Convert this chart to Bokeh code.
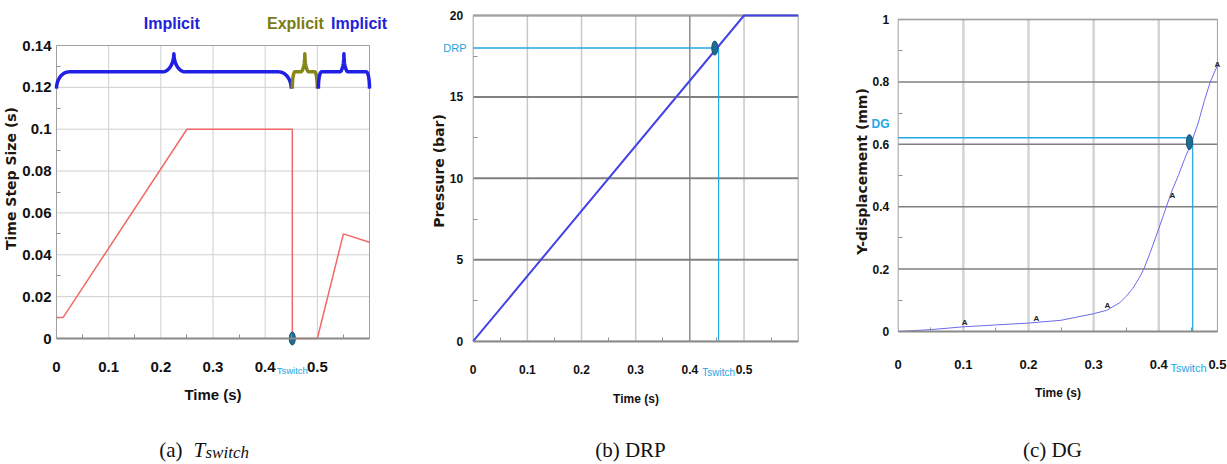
import numpy as np
from bokeh.plotting import figure
from bokeh.models import FixedTicker, Range1d
from bokeh.layouts import row
from bokeh.embed import file_html
from bokeh.resources import INLINE
from bokeh.core.properties import value

# ---------------- data ----------------
# (a) time step size
a_time = [0.0, 0.0125, 0.25, 0.452, 0.452, 0.5, 0.55, 0.6]
a_step = [0.01, 0.01, 0.1, 0.1, 0.0, 0.0, 0.05, 0.046]
a_xticks = [0, 0.1, 0.2, 0.3, 0.4, 0.5]
a_xlabels = ["0", "0.1", "0.2", "0.3", "0.4", "0.5"]
a_yticks = [0, 0.02, 0.04, 0.06, 0.08, 0.1, 0.12, 0.14]
a_ylabels = ["0", "0.02", "0.04", "0.06", "0.08", "0.1", "0.12", "0.14"]
a_xmax, a_ymax = 0.6, 0.14
brace_names = ["Implicit", "Explicit", "Implicit"]
brace_start = [0.0, 0.452, 0.502]
brace_end = [0.45, 0.5, 0.6]
brace_tip = [0.225, 0.476, 0.551]
brace_label_x = [0.221, 0.458, 0.58]
a_tswitch = 0.452

# (b) pressure
b_time = [0.0, 0.5, 0.6]
b_pressure = [0.0, 20.0, 20.0]
b_xticks = [0, 0.1, 0.2, 0.3, 0.4, 0.5]
b_xlabels = ["0", "0.1", "0.2", "0.3", "0.4", "0.5"]
b_yticks = [0, 5, 10, 15, 20]
b_ylabels = ["0", "5", "10", "15", "20"]
b_xmax, b_ymax = 0.6, 20
b_drp = 18.0
b_tswitch = 0.453
b_dot_t = 0.446

# (c) y-displacement
c_time = [0.0, 0.05, 0.1, 0.15, 0.2, 0.25, 0.3, 0.32, 0.34, 0.35, 0.36, 0.37,
          0.377, 0.387, 0.4, 0.41, 0.42, 0.43, 0.44, 0.449, 0.46, 0.47, 0.479, 0.49]
c_disp = [0.0, 0.006, 0.015, 0.021, 0.027, 0.036, 0.057, 0.068, 0.092, 0.113, 0.138, 0.172,
          0.2, 0.254, 0.33, 0.39, 0.45, 0.5, 0.555, 0.6, 0.665, 0.74, 0.8, 0.853]
c_mark_t = [0.102, 0.212, 0.321, 0.421, 0.49]
c_mark_y = [0.016, 0.028, 0.068, 0.42, 0.84]
c_xticks = [0, 0.1, 0.2, 0.3, 0.4, 0.49]
c_xlabels = ["0", "0.1", "0.2", "0.3", "0.4", "0.5"]
c_yticks = [0, 0.2, 0.4, 0.6, 0.8, 1.0]
c_ylabels = ["0", "0.2", "0.4", "0.6", "0.8", "1"]
c_xmax, c_ymax = 0.49, 1.0
c_dg = 0.621
c_tswitch = 0.452
c_dot = (0.447, 0.607)

# ---------------- styles ----------------
SANS = "Liberation Sans"
WIDE = "DejaVu Sans"
SERIF = "Liberation Serif"
CYAN = "#22a6e4"
DOT_FILL = "#1f6d94"
DOT_LINE = "#15506e"
H = 464


class Frame:
    """pixel <-> data mapping of a panel whose plotting frame fills the canvas"""
    def __init__(self, width, xd, yd):
        d0, p0, d1, p1 = xd
        self.sx = (p1 - p0) / (d1 - d0)
        self.x0 = d0 - p0 / self.sx
        self.x1 = self.x0 + width / self.sx
        d0, p0, d1, p1 = yd
        self.sy = (p0 - p1) / (d1 - d0)
        self.y0 = d0 - (H - p0) / self.sy
        self.y1 = self.y0 + H / self.sy
        self.width = width

    def X(self, px):
        return self.x0 + px / self.sx

    def Y(self, py):
        return self.y0 + (H - py) / self.sy


def make_panel(f, xt, xl, xminor, yt, yl, yminor, xmax, ymax, ytop,
               xsize, ysize, xstand, ystand, xtitle, ytitle, xtsize, xtstand,
               vgrid, hgrid):
    p = figure(width=f.width, height=H, x_range=Range1d(f.x0, f.x1),
               y_range=Range1d(f.y0, f.y1), output_backend="svg",
               toolbar_location=None, min_border=0)
    p.outline_line_color = None
    p.background_fill_color = "white"
    p.border_fill_color = "white"
    p.xgrid.visible = False
    p.ygrid.visible = False
    # grid lines restricted to the plotting box
    vx = [t for t in xt if 0 < t < xmax]
    p.segment(x0=vx, y0=[0] * len(vx), x1=vx, y1=[ymax] * len(vx), **vgrid)
    hy = [t for t in yt if 0 < t <= ymax]
    p.segment(x0=[0] * len(hy), y0=hy, x1=[xmax] * len(hy), y1=hy, **hgrid)
    p.quad(left=[0], right=[xmax], bottom=[0], top=[ymax], fill_color=None,
           line_color="#a0a0a0", line_width=1)

    xa, ya = p.xaxis[0], p.yaxis[0]
    xa.fixed_location = 0
    ya.fixed_location = 0
    xa.bounds = (0, xmax)
    ya.bounds = (0, ytop)
    xa.ticker = FixedTicker(ticks=xt, minor_ticks=xminor)
    ya.ticker = FixedTicker(ticks=yt, minor_ticks=yminor)
    xa.major_label_overrides = {t: s for t, s in zip(xt, xl)}
    ya.major_label_overrides = {t: s for t, s in zip(yt, yl)}
    for ax in (xa, ya):
        ax.major_tick_in = 0
        ax.major_tick_out = 0
        ax.minor_tick_in = 4
        ax.minor_tick_out = 0
        ax.minor_tick_line_color = "#909090"
        ax.major_label_text_font = SANS
        ax.major_label_text_font_style = "bold"
        ax.major_label_text_color = "#111111"
    xa.major_label_text_font_size = xsize
    ya.major_label_text_font_size = ysize
    xa.major_label_standoff = xstand
    ya.major_label_standoff = ystand
    ya.axis_line_color = None
    xa.axis_line_color = "#8a8a8a"
    xa.axis_line_width = 2
    xa.axis_label = xtitle
    xa.axis_label_text_font = SANS
    xa.axis_label_text_font_style = "bold"
    xa.axis_label_text_font_size = xtsize
    xa.axis_label_text_color = "#111111"
    xa.axis_label_standoff = xtstand
    ya.axis_label = ytitle
    ya.axis_label_text_font = WIDE
    ya.axis_label_text_font_style = "bold"
    ya.axis_label_text_font_size = "14px"
    ya.axis_label_text_color = "#1d1710"
    ya.axis_label_standoff = 0
    return p


def txt(p, x, y, text, size, color="#111111", font=SANS, style="normal",
        align="center", baseline="middle"):
    p.text(x=[x], y=[y], text=[text], text_font=value(font), text_font_size=size,
           text_font_style=style, text_color=color, text_align=align,
           text_baseline=baseline)


def dot(p, x, y, h):
    p.ellipse(x=[x], y=[y], width=6, height=h, width_units="screen",
              height_units="screen", fill_color=DOT_FILL, line_color=DOT_LINE)


# ---------------- panel (a) ----------------
fa = Frame(400, (0, 56, 0.6, 369), (0, 338, 0.14, 45))
pa = make_panel(fa, a_xticks, a_xlabels, list(np.arange(0.05, 0.6, 0.1)),
                a_yticks, a_ylabels, list(np.arange(0.01, 0.14, 0.02)),
                a_xmax, a_ymax, fa.Y(18), "15px", "15px", 23, 5,
                "Time (s)", "Time Step Size (s)", "15px", 11,
                dict(line_color="#cfcfcf", line_width=1),
                dict(line_color="#cfcfcf", line_width=1))
pa.line(a_time, a_step, line_color="#f26868", line_width=1.5)


def brace(x0, x1, xt, base, flat, top, curl, tipcurl):
    th = np.linspace(0, np.pi / 2, 14)
    xs = list(x0 + curl * (1 - np.cos(th)))
    ys = list(base + (flat - base) * np.sin(th))
    xs += list(xt - tipcurl + tipcurl * np.sin(th))
    ys += list(flat + (top - flat) * (1 - np.cos(th)))
    xs += list(xt + tipcurl * (1 - np.cos(th)))
    ys += list(top - (top - flat) * np.sin(th))
    xs += list(x1 - curl + curl * np.sin(th))
    ys += list(flat - (flat - base) * (1 - np.cos(th)))
    return xs, ys


brace_colors = ["#1f1fe6", "#868618", "#1f1fe6"]
text_colors = ["#2222d8", "#7a7a14", "#2222d8"]
curls = [(0.024, 0.022), (0.005, 0.008), (0.006, 0.008)]
bx, by = [], []
for s, e, t, (c1, c2) in zip(brace_start, brace_end, brace_tip, curls):
    xs, ys = brace(s, e, t, 0.1194, 0.1274, 0.136, c1, c2)
    bx.append(xs)
    by.append(ys)
pa.multi_line(bx, by, line_color=brace_colors, line_width=3.5, line_join="round")

for name, hx, col in zip(brace_names, brace_label_x, text_colors):
    txt(pa, hx, fa.Y(23), name, "16px", color=col, style="bold")

dot(pa, a_tswitch, 0.0, 13)
txt(pa, a_tswitch, fa.Y(370), "Tswitch", "9.5px", color=CYAN)

# caption (a)
txt(pa, fa.X(182), fa.Y(449), "(a)", "21px", font=SERIF, align="right", baseline="alphabetic")
txt(pa, fa.X(193), fa.Y(449), "T", "21px", font=SERIF, style="italic", align="left", baseline="alphabetic")
txt(pa, fa.X(205), fa.Y(452), "switch", "17px", font=SERIF, style="italic", align="left", baseline="alphabetic")

# ---------------- panel (b) ----------------
fb = Frame(420, (0, 72.7, 0.6, 397.7), (0, 340.7, 20, 15))
pb = make_panel(fb, b_xticks, b_xlabels, list(np.arange(0.05, 0.6, 0.1)),
                b_yticks, b_ylabels, list(np.arange(2.5, 20, 5)),
                b_xmax, b_ymax, fb.Y(-19), "12px", "12px", 24, 10,
                "Time (s)", "Pressure (bar)", "12px", 14,
                dict(line_color=["#c8c8c8", "#c8c8c8", "#c8c8c8", "#555555", "#c8c8c8"],
                     line_width=[1.5, 1.5, 1.5, 1, 1.5]),
                dict(line_color="#808080", line_width=2))
pb.line([0, b_tswitch], [b_drp, b_drp], line_color=CYAN, line_width=1.5)
pb.line([b_tswitch, b_tswitch], [0, b_drp], line_color=CYAN, line_width=1.2)
pb.line(b_time, b_pressure, line_color="#4343e6", line_width=2)
dot(pb, b_dot_t, b_drp, 14)
txt(pb, fb.X(66), b_drp, "DRP", "11px", color=CYAN, align="right")
txt(pb, b_tswitch, fb.Y(372), "Tswitch", "10px", color=CYAN)
txt(pb, fb.X(230), fb.Y(449), "(b) DRP", "21px", font=SERIF, baseline="alphabetic")

# ---------------- panel (c) ----------------
fc = Frame(407, (0, 77.7, 0.4, 338.3), (0, 331, 1, 19))
pc = make_panel(fc, c_xticks, c_xlabels, list(np.arange(0.05, 0.49, 0.1)),
                c_yticks, c_ylabels, list(np.arange(0.1, 1.0, 0.2)),
                c_xmax, c_ymax, fc.Y(11), "13px", "12px", 28, 9,
                "Time (s)", "Y-displacement (mm)", "12px", 14,
                dict(line_color="#d4d4d4", line_width=2.5),
                dict(line_color="#808080", line_width=1.5))
pc.line([0, c_tswitch], [c_dg, c_dg], line_color=CYAN, line_width=1.5)
pc.line([c_tswitch, c_tswitch], [0, c_dg], line_color=CYAN, line_width=1.2)
pc.line(c_time, c_disp, line_color="#6b6bf0", line_width=1)
pc.text(x=c_mark_t, y=c_mark_y, text=["A"] * len(c_mark_t), text_font=value(SANS),
        text_font_size="8px", text_font_style="bold", text_color="#222222",
        text_align="center", text_baseline="bottom")
dot(pc, c_dot[0], c_dot[1], 15)
txt(pc, fc.X(69), fc.Y(123), "DG", "12px", color=CYAN, style="bold", align="right")
txt(pc, fc.X(368), fc.Y(367), "Tswitch", "11px", color=CYAN)
txt(pc, fc.X(232), fc.Y(449), "(c) DG", "21px", font=SERIF, baseline="alphabetic")

layout = row(pa, pb, pc)
open("out.html", "w").write(file_html(layout, INLINE))
